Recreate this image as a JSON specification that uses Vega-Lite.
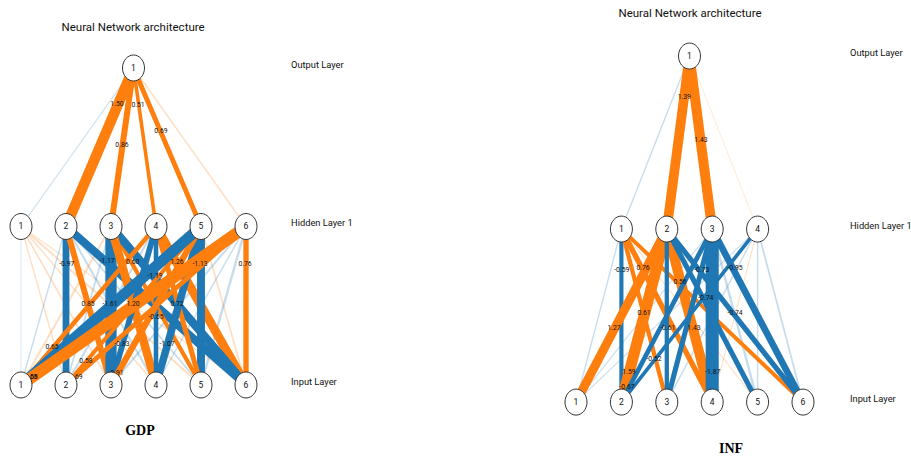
{
  "$schema": "https://vega.github.io/schema/vega-lite/v6.json",
  "padding": 0,
  "spacing": 0,
  "background": "white",
  "config": {
    "view": {"stroke": null},
    "locale": {"number": {"decimal": ".", "thousands": ",", "grouping": [3], "currency": ["$", ""], "minus": "-"}}
  },
  "datasets": {
    "gdp_edges": [
      {"x1": 1, "y1": 1, "x2": 3.5, "y2": 2, "w": -0.15},
      {"x1": 6, "y1": 1, "x2": 3.5, "y2": 2, "w": 0.2},
      {"x1": 2, "y1": 1, "x2": 3.5, "y2": 2, "w": 1.50, "lx": 3.133, "ly": 1.773},
      {"x1": 3, "y1": 1, "x2": 3.5, "y2": 2, "w": 0.86, "lx": 3.244, "ly": 1.514},
      {"x1": 4, "y1": 1, "x2": 3.5, "y2": 2, "w": 0.51, "lx": 3.6, "ly": 1.767},
      {"x1": 5, "y1": 1, "x2": 3.5, "y2": 2, "w": 0.69, "lx": 4.111, "ly": 1.603},
      {"x1": 1, "y1": 1, "x2": 1, "y2": 0, "w": -0.10},
      {"x1": 1, "y1": 1, "x2": 2, "y2": 0, "w": 0.20},
      {"x1": 1, "y1": 1, "x2": 3, "y2": 0, "w": 0.25},
      {"x1": 1, "y1": 1, "x2": 4, "y2": 0, "w": 0.20},
      {"x1": 1, "y1": 1, "x2": 5, "y2": 0, "w": 0.30},
      {"x1": 1, "y1": 1, "x2": 6, "y2": 0, "w": 0.15},
      {"x1": 2, "y1": 1, "x2": 1, "y2": 0, "w": -0.20},
      {"x1": 2, "y1": 1, "x2": 4, "y2": 0, "w": -0.30},
      {"x1": 2, "y1": 1, "x2": 5, "y2": 0, "w": -0.25},
      {"x1": 3, "y1": 1, "x2": 1, "y2": 0, "w": 0.30},
      {"x1": 3, "y1": 1, "x2": 2, "y2": 0, "w": -0.25},
      {"x1": 4, "y1": 1, "x2": 2, "y2": 0, "w": -0.30},
      {"x1": 5, "y1": 1, "x2": 6, "y2": 0, "w": 0.25},
      {"x1": 6, "y1": 1, "x2": 3, "y2": 0, "w": -0.30},
      {"x1": 6, "y1": 1, "x2": 4, "y2": 0, "w": -0.20},
      {"x1": 6, "y1": 1, "x2": 5, "y2": 0, "w": -0.35},
      {"x1": 2, "y1": 1, "x2": 2, "y2": 0, "w": -0.97, "lx": 2.016, "ly": 0.763},
      {"x1": 2, "y1": 1, "x2": 6, "y2": 0, "w": -1.17, "lx": 2.911, "ly": 0.782},
      {"x1": 3, "y1": 1, "x2": 5, "y2": 0, "w": 0.60, "lx": 3.482, "ly": 0.776},
      {"x1": 4, "y1": 1, "x2": 6, "y2": 0, "w": 1.26, "lx": 4.467, "ly": 0.776},
      {"x1": 5, "y1": 1, "x2": 5, "y2": 0, "w": -1.13, "lx": 4.978, "ly": 0.763},
      {"x1": 6, "y1": 1, "x2": 6, "y2": 0, "w": 0.76, "lx": 5.978, "ly": 0.763},
      {"x1": 3, "y1": 1, "x2": 6, "y2": 0, "w": -1.19, "lx": 3.978, "ly": 0.688},
      {"x1": 2, "y1": 1, "x2": 3, "y2": 0, "w": 0.85, "lx": 2.489, "ly": 0.511},
      {"x1": 3, "y1": 1, "x2": 3, "y2": 0, "w": -1.61, "lx": 2.978, "ly": 0.511},
      {"x1": 3, "y1": 1, "x2": 4, "y2": 0, "w": 1.20, "lx": 3.489, "ly": 0.511},
      {"x1": 4, "y1": 1, "x2": 5, "y2": 0, "w": 0.72, "lx": 4.467, "ly": 0.511},
      {"x1": 4, "y1": 1, "x2": 4, "y2": 0, "w": -0.65, "lx": 4.0, "ly": 0.429},
      {"x1": 4, "y1": 1, "x2": 3, "y2": 0, "w": -0.83, "lx": 3.244, "ly": 0.259},
      {"x1": 5, "y1": 1, "x2": 4, "y2": 0, "w": -1.07, "lx": 4.244, "ly": 0.259},
      {"x1": 4, "y1": 1, "x2": 1, "y2": 0, "w": 0.65, "lx": 1.689, "ly": 0.240},
      {"x1": 5, "y1": 1, "x2": 2, "y2": 0, "w": 0.58, "lx": 2.444, "ly": 0.151},
      {"x1": 6, "y1": 1, "x2": 2, "y2": 0, "w": 0.69, "lx": 2.222, "ly": 0.050},
      {"x1": 5, "y1": 1, "x2": 3, "y2": 0, "w": 0.91, "lx": 3.133, "ly": 0.076},
      {"x1": 5, "y1": 1, "x2": 1, "y2": 0, "w": -1.55, "lx": 1.2, "ly": 0.050},
      {"x1": 6, "y1": 1, "x2": 1, "y2": 0, "w": 1.68, "lx": 1.222, "ly": 0.050}
    ],
    "gdp_nodes": [
      {"x": 1, "y": 0, "n": "1"}, {"x": 2, "y": 0, "n": "2"}, {"x": 3, "y": 0, "n": "3"},
      {"x": 4, "y": 0, "n": "4"}, {"x": 5, "y": 0, "n": "5"}, {"x": 6, "y": 0, "n": "6"},
      {"x": 1, "y": 1, "n": "1"}, {"x": 2, "y": 1, "n": "2"}, {"x": 3, "y": 1, "n": "3"},
      {"x": 4, "y": 1, "n": "4"}, {"x": 5, "y": 1, "n": "5"}, {"x": 6, "y": 1, "n": "6"},
      {"x": 3.5, "y": 2, "n": "1"}
    ],
    "inf_edges": [
      {"x1": 2, "y1": 1, "x2": 3.5, "y2": 2, "w": -0.2},
      {"x1": 5, "y1": 1, "x2": 3.5, "y2": 2, "w": 0.1},
      {"x1": 3, "y1": 1, "x2": 3.5, "y2": 2, "w": 1.39, "lx": 3.385, "ly": 1.761},
      {"x1": 4, "y1": 1, "x2": 3.5, "y2": 2, "w": 1.43, "lx": 3.753, "ly": 1.514},
      {"x1": 2, "y1": 1, "x2": 1, "y2": 0, "w": -0.20},
      {"x1": 2, "y1": 1, "x2": 5, "y2": 0, "w": 0.15},
      {"x1": 4, "y1": 1, "x2": 1, "y2": 0, "w": -0.15},
      {"x1": 4, "y1": 1, "x2": 5, "y2": 0, "w": -0.35},
      {"x1": 5, "y1": 1, "x2": 1, "y2": 0, "w": -0.15},
      {"x1": 5, "y1": 1, "x2": 3, "y2": 0, "w": -0.20},
      {"x1": 5, "y1": 1, "x2": 4, "y2": 0, "w": 0.15},
      {"x1": 5, "y1": 1, "x2": 5, "y2": 0, "w": -0.20},
      {"x1": 5, "y1": 1, "x2": 6, "y2": 0, "w": -0.25},
      {"x1": 2, "y1": 1, "x2": 2, "y2": 0, "w": -0.59, "lx": 2.007, "ly": 0.763},
      {"x1": 2, "y1": 1, "x2": 4, "y2": 0, "w": 0.76, "lx": 2.476, "ly": 0.775},
      {"x1": 2, "y1": 1, "x2": 3, "y2": 0, "w": 0.61, "lx": 2.498, "ly": 0.516},
      {"x1": 2, "y1": 1, "x2": 6, "y2": 0, "w": 0.56, "lx": 3.291, "ly": 0.694},
      {"x1": 3, "y1": 1, "x2": 1, "y2": 0, "w": 1.27, "lx": 1.837, "ly": 0.429},
      {"x1": 3, "y1": 1, "x2": 2, "y2": 0, "w": 1.59, "lx": 2.167, "ly": 0.173},
      {"x1": 3, "y1": 1, "x2": 4, "y2": 0, "w": 1.43, "lx": 3.599, "ly": 0.429},
      {"x1": 3, "y1": 1, "x2": 3, "y2": 0, "w": -0.61, "lx": 3.020, "ly": 0.429},
      {"x1": 3, "y1": 1, "x2": 5, "y2": 0, "w": -0.74, "lx": 3.857, "ly": 0.601},
      {"x1": 3, "y1": 1, "x2": 6, "y2": 0, "w": -0.74, "lx": 4.502, "ly": 0.516},
      {"x1": 4, "y1": 1, "x2": 2, "y2": 0, "w": -0.67, "lx": 2.123, "ly": 0.087},
      {"x1": 4, "y1": 1, "x2": 3, "y2": 0, "w": -0.73, "lx": 3.769, "ly": 0.763},
      {"x1": 4, "y1": 1, "x2": 6, "y2": 0, "w": -0.95, "lx": 4.502, "ly": 0.775},
      {"x1": 5, "y1": 1, "x2": 2, "y2": 0, "w": -0.52, "lx": 2.718, "ly": 0.249},
      {"x1": 4, "y1": 1, "x2": 4, "y2": 0, "w": -1.87, "lx": 4.011, "ly": 0.175}
    ],
    "inf_nodes": [
      {"x": 1, "y": 0, "n": "1"}, {"x": 2, "y": 0, "n": "2"}, {"x": 3, "y": 0, "n": "3"},
      {"x": 4, "y": 0, "n": "4"}, {"x": 5, "y": 0, "n": "5"}, {"x": 6, "y": 0, "n": "6"},
      {"x": 2, "y": 1, "n": "1"}, {"x": 3, "y": 1, "n": "2"}, {"x": 4, "y": 1, "n": "3"},
      {"x": 5, "y": 1, "n": "4"},
      {"x": 3.5, "y": 2, "n": "1"}
    ],
    "layers": [
      {"layer": 2, "t": "Output Layer"},
      {"layer": 1, "t": "Hidden Layer 1"},
      {"layer": 0, "t": "Input Layer"}
    ]
  },
  "hconcat": [
    {
      "width": 360,
      "height": 459,
      "layer": [
        {
          "data": {"name": "gdp_edges"},
          "transform": [{"calculate": "abs(datum.w)", "as": "m"}],
          "mark": {"type": "rule", "strokeCap": "butt"},
          "encoding": {
            "x": {"field": "x1", "type": "quantitative", "scale": {"domain": [0.5333, 8.5333], "nice": false, "zero": false}, "axis": null},
            "y": {"field": "y1", "type": "quantitative", "scale": {"domain": [-0.467, 2.429], "nice": false, "zero": false}, "axis": null},
            "x2": {"field": "x2"},
            "y2": {"field": "y2"},
            "color": {"condition": {"test": "datum.w >= 0", "value": "#ff7f0e"}, "value": "#1f77b4"},
            "strokeWidth": {"field": "m", "type": "quantitative", "scale": {"domain": [0, 2], "range": [0, 14]}, "legend": null},
            "opacity": {"condition": {"test": "abs(datum.w) >= 0.5", "value": 1}, "value": 0.25}
          }
        },
        {
          "data": {"name": "gdp_edges"},
          "transform": [{"filter": "isValid(datum.lx)"}],
          "mark": {"type": "text", "fontSize": 6.8, "font": "Roboto", "color": "#111"},
          "encoding": {
            "x": {"field": "lx", "type": "quantitative"},
            "y": {"field": "ly", "type": "quantitative"},
            "text": {"field": "w", "type": "quantitative", "format": ".2f"}
          }
        },
        {
          "data": {"name": "gdp_nodes"},
          "mark": {"type": "point", "shape": "M -0.846 0 A 0.846 1 0 1 0 0.846 0 A 0.846 1 0 1 0 -0.846 0 Z", "size": 676, "filled": true, "fill": "white", "stroke": "#333", "strokeWidth": 1, "opacity": 1},
          "encoding": {
            "x": {"field": "x", "type": "quantitative"},
            "y": {"field": "y", "type": "quantitative"}
          }
        },
        {
          "data": {"name": "gdp_nodes"},
          "mark": {"type": "text", "fontSize": 8.5, "font": "Roboto", "color": "#111"},
          "encoding": {
            "x": {"field": "x", "type": "quantitative"},
            "y": {"field": "y", "type": "quantitative"},
            "text": {"field": "n"}
          }
        },
        {
          "data": {"name": "layers"},
          "mark": {"type": "text", "align": "left", "fontSize": 9.3, "dy": -3, "font": "Roboto", "color": "#111"},
          "encoding": {
            "x": {"datum": 7.0},
            "y": {"field": "layer", "type": "quantitative"},
            "text": {"field": "t"}
          }
        },
        {
          "data": {"values": [{}]},
          "mark": {"type": "text", "fontSize": 11.5, "font": "Roboto", "color": "#111"},
          "encoding": {
            "x": {"datum": 3.49},
            "y": {"datum": 2.252},
            "text": {"value": "Neural Network architecture"}
          }
        },
        {
          "data": {"values": [{}]},
          "mark": {"type": "text", "fontSize": 14, "fontWeight": "bold", "font": "Liberation Serif", "color": "#000"},
          "encoding": {
            "x": {"datum": 3.644},
            "y": {"datum": -0.29},
            "text": {"value": "GDP"}
          }
        }
      ]
    },
    {
      "width": 551,
      "height": 459,
      "layer": [
        {
          "data": {"name": "inf_edges"},
          "transform": [{"calculate": "abs(datum.w)", "as": "m"}],
          "mark": {"type": "rule", "strokeCap": "butt"},
          "encoding": {
            "x": {"field": "x1", "type": "quantitative", "scale": {"domain": [-3.758, 8.379], "nice": false, "zero": false}, "axis": null},
            "y": {"field": "y1", "type": "quantitative", "scale": {"domain": [-0.329, 2.324], "nice": false, "zero": false}, "axis": null},
            "x2": {"field": "x2"},
            "y2": {"field": "y2"},
            "color": {"condition": {"test": "datum.w >= 0", "value": "#ff7f0e"}, "value": "#1f77b4"},
            "strokeWidth": {"field": "m", "type": "quantitative", "scale": {"domain": [0, 2], "range": [0, 14]}, "legend": null},
            "opacity": {"condition": {"test": "abs(datum.w) >= 0.5", "value": 1}, "value": 0.25}
          }
        },
        {
          "data": {"name": "inf_edges"},
          "transform": [{"filter": "isValid(datum.lx)"}],
          "mark": {"type": "text", "fontSize": 6.8, "font": "Roboto", "color": "#111"},
          "encoding": {
            "x": {"field": "lx", "type": "quantitative"},
            "y": {"field": "ly", "type": "quantitative"},
            "text": {"field": "w", "type": "quantitative", "format": ".2f"}
          }
        },
        {
          "data": {"name": "inf_nodes"},
          "mark": {"type": "point", "shape": "M -0.846 0 A 0.846 1 0 1 0 0.846 0 A 0.846 1 0 1 0 -0.846 0 Z", "size": 676, "filled": true, "fill": "white", "stroke": "#333", "strokeWidth": 1, "opacity": 1},
          "encoding": {
            "x": {"field": "x", "type": "quantitative"},
            "y": {"field": "y", "type": "quantitative"}
          }
        },
        {
          "data": {"name": "inf_nodes"},
          "mark": {"type": "text", "fontSize": 8.5, "font": "Roboto", "color": "#111"},
          "encoding": {
            "x": {"field": "x", "type": "quantitative"},
            "y": {"field": "y", "type": "quantitative"},
            "text": {"field": "n"}
          }
        },
        {
          "data": {"name": "layers"},
          "mark": {"type": "text", "align": "left", "fontSize": 9.3, "dy": -3, "font": "Roboto", "color": "#111"},
          "encoding": {
            "x": {"datum": 7.035},
            "y": {"field": "layer", "type": "quantitative"},
            "text": {"field": "t"}
          }
        },
        {
          "data": {"values": [{}]},
          "mark": {"type": "text", "fontSize": 11.5, "font": "Roboto", "color": "#111"},
          "encoding": {
            "x": {"datum": 3.511},
            "y": {"datum": 2.243},
            "text": {"value": "Neural Network architecture"}
          }
        },
        {
          "data": {"values": [{}]},
          "mark": {"type": "text", "fontSize": 14, "fontWeight": "bold", "font": "Liberation Serif", "color": "#000"},
          "encoding": {
            "x": {"datum": 4.414},
            "y": {"datum": -0.272},
            "text": {"value": "INF"}
          }
        }
      ]
    }
  ]
}
